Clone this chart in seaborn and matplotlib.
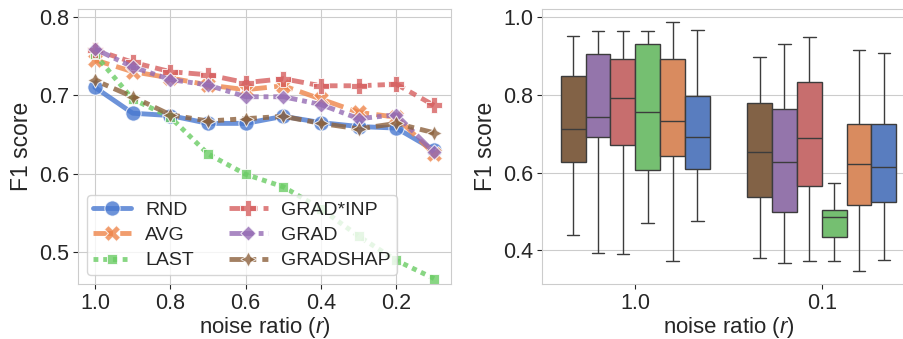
import pandas as pd
import matplotlib
matplotlib.use('Agg')
import matplotlib.pyplot as plt
import numpy as np
import seaborn as sns

# noise ratios for the line plot
ratios = [1.0, 0.9, 0.8, 0.7, 0.6, 0.5, 0.4, 0.3, 0.2, 0.1]

# mean F1 per method
f1_rnd      = [0.710, 0.677, 0.674, 0.664, 0.664, 0.673, 0.665, 0.660, 0.658, 0.630]
f1_avg      = [0.745, 0.730, 0.722, 0.713, 0.707, 0.712, 0.695, 0.678, 0.672, 0.625]
f1_last     = [0.752, 0.695, 0.672, 0.625, 0.599, 0.583, 0.555, 0.520, 0.489, 0.466]
f1_gradinp  = [0.758, 0.742, 0.730, 0.726, 0.716, 0.721, 0.712, 0.712, 0.714, 0.687]
f1_grad     = [0.759, 0.736, 0.720, 0.713, 0.698, 0.698, 0.688, 0.670, 0.675, 0.627]
f1_gradshap = [0.719, 0.698, 0.675, 0.667, 0.670, 0.673, 0.664, 0.657, 0.664, 0.652]

methods = ['RND', 'AVG', 'LAST', 'GRAD*INP', 'GRAD', 'GRADSHAP']
box_order = ['GRADSHAP', 'GRAD', 'GRAD*INP', 'LAST', 'AVG', 'RND']
box_ratios = ['1.0', '0.1']

# five number summaries (min, q1, median, q3, max) for the boxes
box_r10 = {
    'GRADSHAP': [0.440, 0.628, 0.711, 0.848, 0.952],
    'GRAD':     [0.392, 0.691, 0.743, 0.906, 0.964],
    'GRAD*INP': [0.390, 0.670, 0.792, 0.893, 0.964],
    'LAST':     [0.471, 0.607, 0.756, 0.930, 0.964],
    'AVG':      [0.371, 0.643, 0.732, 0.891, 0.988],
    'RND':      [0.476, 0.610, 0.691, 0.796, 0.967],
}
box_r01 = {
    'GRADSHAP': [0.380, 0.538, 0.652, 0.779, 0.897],
    'GRAD':     [0.366, 0.499, 0.628, 0.763, 0.930],
    'GRAD*INP': [0.371, 0.565, 0.688, 0.832, 0.950],
    'LAST':     [0.372, 0.433, 0.485, 0.503, 0.574],
    'AVG':      [0.347, 0.516, 0.621, 0.725, 0.916],
    'RND':      [0.376, 0.525, 0.615, 0.726, 0.909],
}

sns.set_style('whitegrid', {'xtick.bottom': True, 'ytick.left': True})
plt.rcParams['font.family'] = ['Liberation Sans', 'DejaVu Sans']
plt.rcParams['mathtext.fontset'] = 'custom'
plt.rcParams['mathtext.rm'] = 'Liberation Sans'
plt.rcParams['mathtext.it'] = 'Liberation Sans:italic'

palette = dict(zip(methods, sns.color_palette('muted', 6)))

# long form tables
line_vals = [f1_rnd, f1_avg, f1_last, f1_gradinp, f1_grad, f1_gradshap]
df_line = pd.concat([
    pd.DataFrame({'ratio': ratios, 'f1': v, 'method': m})
    for m, v in zip(methods, line_vals)
], ignore_index=True)

rows = []
for r, table in zip(box_ratios, [box_r10, box_r01]):
    for m, vals in table.items():
        for v in vals:
            rows.append({'ratio': r, 'method': m, 'f1': v})
df_box = pd.DataFrame(rows)

fig = plt.figure(figsize=(9.04, 3.39), dpi=100)
W, H = 904, 339
ax1 = fig.add_axes([78 / W, 55 / H, 373 / W, 275 / H])
ax2 = fig.add_axes([542 / W, 55 / H, 373 / W, 275 / H])

sns.lineplot(
    data=df_line, x='ratio', y='f1', hue='method', style='method',
    hue_order=methods, style_order=methods, palette=palette,
    markers=True, dashes=True, linewidth=3.5, markersize=11,
    alpha=0.8, ax=ax1
)
ax1.set_xlim(1.045, 0.055)
ax1.set_ylim(0.459, 0.81)
ax1.set_xticks([1.0, 0.8, 0.6, 0.4, 0.2])
ax1.set_yticks([0.5, 0.6, 0.7, 0.8])
ax1.set_xlabel('noise ratio ($r$)', fontsize=16, labelpad=1)
ax1.set_ylabel('F1 score', fontsize=16.5)
ax1.tick_params(labelsize=15.5, pad=3)
ax1.legend(loc='lower left', ncol=2, fontsize=14, handlelength=2.0,
           handletextpad=0.7, columnspacing=1.8, labelspacing=0.4,
           borderpad=0.3, borderaxespad=0.45)

sns.boxplot(
    data=df_box, x='ratio', y='f1', hue='method', order=box_ratios,
    hue_order=box_order, palette=palette, whis=(0, 100), ax=ax2
)
ax2.set_xlim(-0.5, 1.5)
ax2.set_ylim(0.313, 1.021)
ax2.set_yticks([0.4, 0.6, 0.8, 1.0])
ax2.set_xlabel('noise ratio ($r$)', fontsize=16, labelpad=1)
ax2.set_ylabel('F1 score', fontsize=16.5)
ax2.tick_params(labelsize=15.5, pad=3)
ax2.get_legend().remove()

fig.savefig('out.png', dpi=100)
